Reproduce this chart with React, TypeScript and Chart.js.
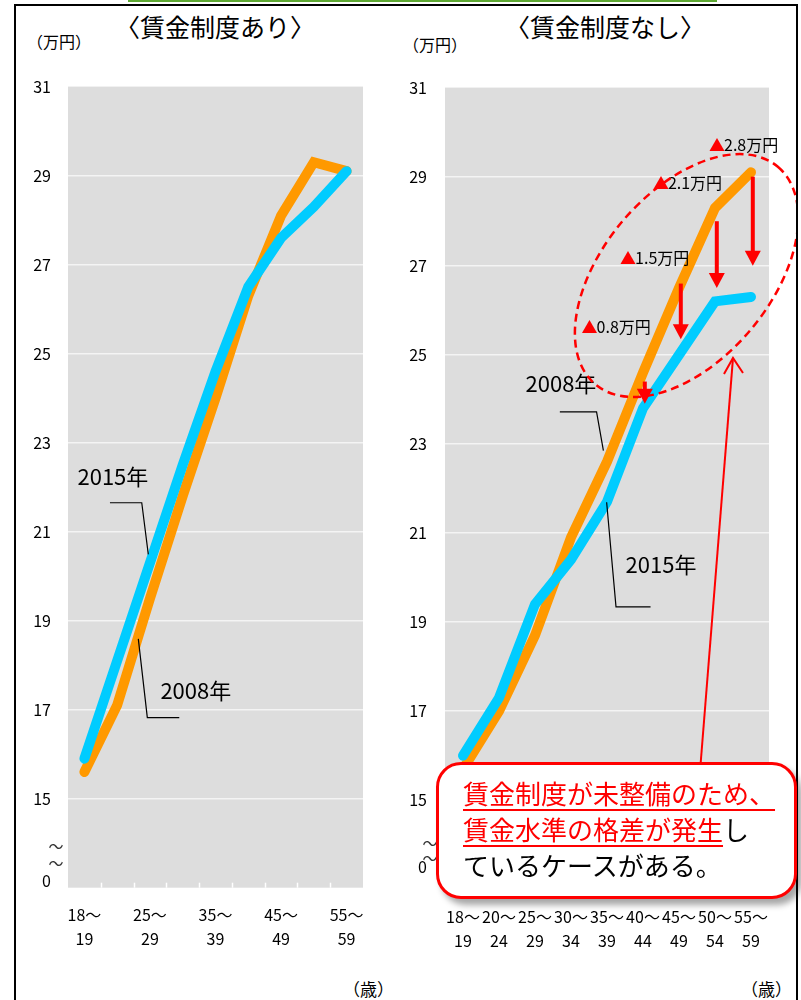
import React, { useEffect, useRef } from 'react';
import { Chart, registerables } from 'chart.js';

Chart.register(...registerables);

const FONT = '"Noto Sans CJK JP", "Noto Sans", sans-serif';

// 年齢階級（歳）
const ageGroups = ['18～19', '20～24', '25～29', '30～34', '35～39', '40～44', '45～49', '50～54', '55～59'];
const ageTickLines = [
  ['18～', '19'], ['20～', '24'], ['25～', '29'], ['30～', '34'], ['35～', '39'],
  ['40～', '44'], ['45～', '49'], ['50～', '54'], ['55～', '59'],
];
const yTickValues = [15, 17, 19, 21, 23, 25, 27, 29, 31];

// 〈賃金制度あり〉 賃金（万円）
const withSystem2008 = [15.6, 17.1, 19.5, 21.8, 24.0, 26.3, 28.1, 29.3, 29.1];
const withSystem2015 = [15.9, 18.1, 20.3, 22.5, 24.6, 26.5, 27.6, 28.3, 29.1];

// 〈賃金制度なし〉 賃金（万円）
const withoutSystem2008 = [15.7, 17.0, 18.7, 20.9, 22.6, 24.6, 26.5, 28.3, 29.1];
const withoutSystem2015 = [16.0, 17.3, 19.4, 20.4, 21.7, 23.8, 25.0, 26.2, 26.3];

// 2008年→2015年の低下を示す矢印（年齢階級の番号と、始点・先端の値）
const gapIndices = [5, 6, 7, 8];
const gapArrowFrom = [24.4, 26.6, 28.0, 29.0];
const gapArrowTo = [23.9, 25.35, 26.5, 27.0];

const ORANGE = '#FF9900';
const BLUE = '#00CCFF';
const RED = '#FF0000';
const PLOT_BG = '#DDDDDD';

type Pt = [number, number]; // [年齢階級の位置, 万円]

interface YearLabel {
  text: string;
  at: Pt;
  leader: Pt[];
}

interface PanelSpec {
  width: number;
  height: number;
  axisWidth: number;
  axisHeight: number;
  padTop: number;
  padRight: number;
  yLabelPad: number;
  xLabelPad: number;
  zeroAt: number;
  breakMarks: number[];
  breakDx: number;
  everyOther: boolean;
  yearLabels: YearLabel[];
  extra?: (chart: any, P: (p: Pt) => [number, number]) => void;
}

function toPixel(chart: any, p: Pt): [number, number] {
  return [chart.scales.x.getPixelForValue(p[0]), chart.scales.y.getPixelForValue(p[1])];
}

function makePanelPlugin(spec: PanelSpec) {
  return {
    id: 'panelDecor',
    beforeDraw(chart: any) {
      const { ctx, chartArea: a } = chart;
      ctx.save();
      ctx.fillStyle = PLOT_BG;
      ctx.fillRect(a.left, a.top, a.right - a.left, a.bottom - a.top);
      ctx.restore();
    },
    beforeDatasetsDraw(chart: any) {
      const { ctx, chartArea: a } = chart;
      const xs = chart.scales.x;
      ctx.save();
      ctx.strokeStyle = '#FFFFFF';
      ctx.lineWidth = 1.5;
      for (let i = 1; i < ageGroups.length; i++) {
        const x = Math.round(xs.getPixelForValue(i - 0.5)) + 0.5;
        ctx.beginPath();
        ctx.moveTo(x, a.bottom - 5);
        ctx.lineTo(x, a.bottom);
        ctx.stroke();
      }
      ctx.restore();
    },
    afterDatasetsDraw(chart: any) {
      const { ctx } = chart;
      const P = (p: Pt) => toPixel(chart, p);
      ctx.save();
      // 系列名と引き出し線
      for (const yl of spec.yearLabels) {
        ctx.strokeStyle = '#000000';
        ctx.lineWidth = 1.2;
        ctx.beginPath();
        yl.leader.forEach((p, i) => {
          const [x, y] = P(p);
          if (i === 0) ctx.moveTo(x, y);
          else ctx.lineTo(x, y);
        });
        ctx.stroke();
        const [tx, ty] = P(yl.at);
        ctx.fillStyle = '#000000';
        ctx.font = `22px ${FONT}`;
        ctx.textAlign = 'center';
        ctx.textBaseline = 'middle';
        ctx.fillText(yl.text, tx, ty - 2);
      }
      if (spec.extra) spec.extra(chart, P);
      ctx.restore();
    },
    afterDraw(chart: any) {
      const { ctx, chartArea: a } = chart;
      const ys = chart.scales.y;
      ctx.save();
      ctx.fillStyle = '#333333';
      ctx.font = `15px ${FONT}`;
      ctx.textAlign = 'center';
      ctx.textBaseline = 'middle';
      for (const v of spec.breakMarks) {
        ctx.fillText('～', a.left - spec.breakDx, ys.getPixelForValue(v));
      }
      ctx.restore();
    },
  };
}

// 〈賃金制度なし〉の差額ラベル・矢印・破線の楕円・吹き出しへの指し線
function drawGapAnnotations(chart: any, P: (p: Pt) => [number, number]) {
  const { ctx } = chart;
  const ds08 = withoutSystem2008;
  const ds15 = withoutSystem2015;

  // 差額ラベル（▲x.x万円）
  const labelAnchors: Pt[] = [[3.35, 25.6], [4.42, 27.15], [5.33, 28.83], [6.89, 29.7]];
  gapIndices.forEach((idx, k) => {
    const diff = (ds08[idx] - ds15[idx]).toFixed(1);
    const [x, y] = P(labelAnchors[k]);
    ctx.font = `16px ${FONT}`;
    ctx.textAlign = 'left';
    ctx.textBaseline = 'middle';
    ctx.fillStyle = RED;
    ctx.fillText('▲', x - 2, y - 1);
    const w = ctx.measureText('▲').width;
    ctx.fillStyle = '#000000';
    ctx.fillText(`${diff}万円`, x + w - 3, y - 1);
  });

  // 低下を示す赤い矢印
  gapIndices.forEach((idx, k) => {
    const [x0, y0] = P([idx + 0.05, gapArrowFrom[k]]);
    const [, y1] = P([idx + 0.05, gapArrowTo[k]]);
    const head = 15;
    ctx.strokeStyle = RED;
    ctx.fillStyle = RED;
    ctx.lineWidth = 4;
    ctx.beginPath();
    ctx.moveTo(x0, y0);
    ctx.lineTo(x0, y1 - head + 1);
    ctx.stroke();
    ctx.beginPath();
    ctx.moveTo(x0 - 8, y1 - head);
    ctx.lineTo(x0 + 8, y1 - head);
    ctx.lineTo(x0, y1);
    ctx.closePath();
    ctx.fill();
  });

  // 破線の楕円
  const [cx, cy] = P([6.21, 26.78]);
  ctx.strokeStyle = RED;
  ctx.lineWidth = 2.5;
  ctx.setLineDash([8, 5]);
  ctx.beginPath();
  ctx.ellipse(cx, cy, 142, 84, (-50 * Math.PI) / 180, 0, Math.PI * 2);
  ctx.stroke();
  ctx.setLineDash([]);

  // 吹き出しからの指し線
  const [tx, ty] = P([7.5, 24.93]);
  const [bx, by] = P([6.48, 14.6]);
  ctx.lineWidth = 2;
  ctx.beginPath();
  ctx.moveTo(bx, by);
  ctx.lineTo(tx, ty);
  ctx.stroke();
  ctx.beginPath();
  ctx.moveTo(tx - 9, ty + 16);
  ctx.lineTo(tx, ty);
  ctx.lineTo(tx + 10, ty + 15);
  ctx.stroke();
}

function PanelChart(props: {
  left: number;
  top: number;
  spec: PanelSpec;
  data2008: number[];
  data2015: number[];
}) {
  const ref = useRef<HTMLCanvasElement | null>(null);
  const { spec, data2008, data2015 } = props;

  useEffect(() => {
    if (!ref.current) return;
    const chart = new Chart(ref.current, {
      type: 'line',
      data: {
        labels: ageGroups,
        datasets: [
          {
            label: '2015年',
            data: data2015,
            borderColor: BLUE,
            borderWidth: 10,
            borderCapStyle: 'round',
            borderJoinStyle: 'miter',
            pointRadius: 0,
            tension: 0,
            fill: false,
          },
          {
            label: '2008年',
            data: data2008,
            borderColor: ORANGE,
            borderWidth: 10,
            borderCapStyle: 'round',
            borderJoinStyle: 'miter',
            pointRadius: 0,
            tension: 0,
            fill: false,
          },
        ],
      },
      options: {
        responsive: false,
        animation: false,
        devicePixelRatio: 1,
        layout: { padding: { top: spec.padTop, right: spec.padRight, left: 0, bottom: 0 } },
        plugins: { legend: { display: false }, title: { display: false }, tooltip: { enabled: false } },
        scales: {
          x: {
            type: 'category',
            offset: true,
            grid: { display: false },
            border: { display: false },
            afterFit: (s: any) => {
              s.height = spec.axisHeight;
            },
            ticks: {
              autoSkip: false,
              maxRotation: 0,
              minRotation: 0,
              padding: spec.xLabelPad,
              color: '#000000',
              font: { family: FONT, size: 16, lineHeight: 1.5 },
              callback: (_v: any, i: number) =>
                spec.everyOther && i % 2 === 1 ? '' : ageTickLines[i],
            },
          },
          y: {
            type: 'linear',
            min: 13,
            max: 31,
            border: { display: false },
            afterFit: (s: any) => {
              s.width = spec.axisWidth;
            },
            afterBuildTicks: (s: any) => {
              s.ticks = [spec.zeroAt, ...yTickValues].map((v) => ({ value: v }));
            },
            grid: {
              drawTicks: false,
              lineWidth: 1.5,
              color: (c: any) =>
                c.tick && c.tick.value >= 15 && c.tick.value <= 29 ? '#F4F4F4' : 'rgba(0,0,0,0)',
            },
            ticks: {
              padding: spec.yLabelPad,
              color: '#000000',
              font: { family: FONT, size: 16 },
              callback: (v: any) => (v === spec.zeroAt ? '0' : String(v)),
            },
          },
        },
      },
      plugins: [makePanelPlugin(spec)],
    } as any);
    return () => chart.destroy();
  }, []);

  return (
    <canvas
      ref={ref}
      width={spec.width}
      height={spec.height}
      style={{
        position: 'absolute',
        left: props.left,
        top: props.top,
        width: spec.width,
        height: spec.height,
      }}
    />
  );
}

const leftSpec: PanelSpec = {
  width: 384,
  height: 900,
  axisWidth: 52,
  axisHeight: 72.3,
  padTop: 24,
  padRight: 37,
  yLabelPad: 17,
  xLabelPad: 7,
  zeroAt: 13.15,
  breakMarks: [13.92, 13.55],
  breakDx: 12,
  everyOther: true,
  yearLabels: [
    { text: '2015年', at: [0.87, 22.2], leader: [[0.78, 21.65], [1.75, 21.65], [1.95, 20.49]] },
    { text: '2008年', at: [3.4, 17.38], leader: [[1.645, 18.59], [1.92, 16.82], [2.895, 16.82]] },
  ],
};

const rightSpec: PanelSpec = {
  width: 396,
  height: 900,
  axisWidth: 45,
  axisHeight: 70.7,
  padTop: 26.5,
  padRight: 27,
  yLabelPad: 18,
  xLabelPad: 8,
  zeroAt: 13.5,
  breakMarks: [14.04, 13.7],
  breakDx: 15,
  everyOther: false,
  yearLabels: [
    { text: '2008年', at: [2.72, 24.31], leader: [[2.69, 23.72], [3.71, 23.72], [3.9, 22.85]] },
    { text: '2015年', at: [5.5, 20.25], leader: [[3.99, 21.69], [4.25, 19.34], [5.21, 19.34]] },
  ],
  extra: drawGapAnnotations,
};

const textBase: React.CSSProperties = {
  position: 'absolute',
  fontFamily: FONT,
  color: '#000000',
  whiteSpace: 'nowrap',
};

const redUnderline: React.CSSProperties = {
  color: RED,
  textDecoration: 'underline',
  textDecorationThickness: '2px',
  textUnderlineOffset: '5px',
};

export default function App() {
  return (
    <div
      style={{
        position: 'fixed',
        left: 0,
        top: 0,
        width: 801,
        height: 1000,
        background: '#FFFFFF',
        overflow: 'hidden',
      }}
    >
      <div style={{ position: 'absolute', left: 128, top: 0, width: 589, height: 2, background: '#5DA832' }} />
      <div
        style={{
          position: 'absolute',
          left: 14,
          top: 4,
          width: 784,
          height: 1020,
          border: '2px solid #000000',
          boxSizing: 'border-box',
        }}
      />

      <div style={{ ...textBase, left: 115, top: 9, width: 200, textAlign: 'center', fontSize: 25, lineHeight: '34px' }}>
        〈賃金制度あり〉
      </div>
      <div style={{ ...textBase, left: 505, top: 9, width: 200, textAlign: 'center', fontSize: 25, lineHeight: '34px' }}>
        〈賃金制度なし〉
      </div>
      <div style={{ ...textBase, left: 27, top: 30, fontSize: 16, lineHeight: '22px' }}>（万円）</div>
      <div style={{ ...textBase, left: 403, top: 33, fontSize: 16, lineHeight: '22px' }}>（万円）</div>

      <PanelChart left={16} top={60} spec={leftSpec} data2008={withSystem2008} data2015={withSystem2015} />
      <PanelChart left={400} top={60} spec={rightSpec} data2008={withoutSystem2008} data2015={withoutSystem2015} />

      <div style={{ ...textBase, left: 343, top: 978, fontSize: 17, lineHeight: '22px' }}>（歳）</div>
      <div style={{ ...textBase, left: 741, top: 978, fontSize: 17, lineHeight: '22px' }}>（歳）</div>

      <div
        style={{
          ...textBase,
          left: 436,
          top: 762,
          width: 361,
          height: 137,
          border: `3px solid ${RED}`,
          borderRadius: 25,
          background: '#FFFFFF',
          boxShadow: '5px 6px 6px rgba(0,0,0,0.35)',
          boxSizing: 'border-box',
          paddingLeft: 24,
          paddingTop: 10,
          fontSize: 26,
          lineHeight: '36px',
        }}
      >
        <span style={redUnderline}>賃金制度が未整備のため、</span>
        <br />
        <span style={redUnderline}>賃金水準の格差が発生</span>し
        <br />
        ているケースがある。
      </div>
    </div>
  );
}
